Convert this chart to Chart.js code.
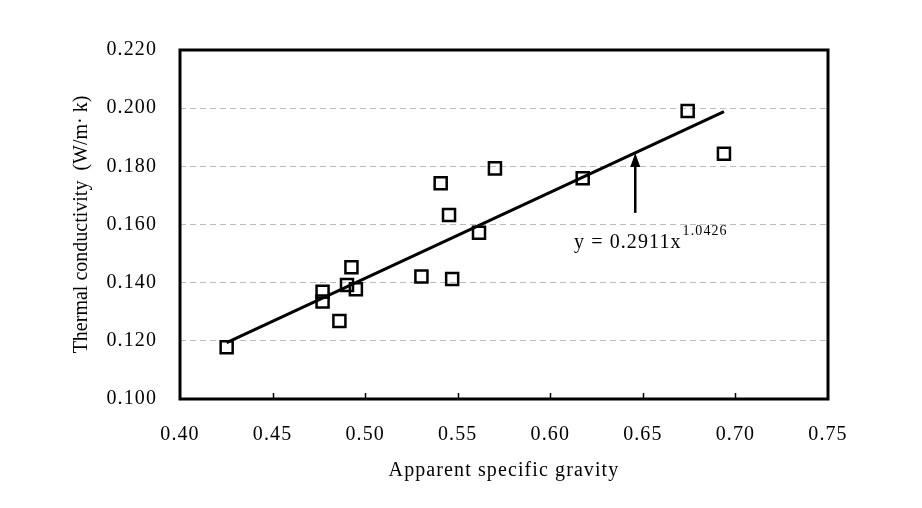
<!DOCTYPE html>
<html>
<head>
<meta charset="utf-8">
<script src="https://cdn.jsdelivr.net/npm/chart.js@4.4.0/dist/chart.umd.min.js"></script>
<style>
  body { margin: 0; background: #fff; }
  canvas { display: block; }
</style>
</head>
<body>
<canvas id="chart" width="922" height="508"></canvas>
<script>
// measured points (apparent specific gravity vs thermal conductivity)
const gravity = [0.4252, 0.4770, 0.4770, 0.4861, 0.4902, 0.4926, 0.4950, 0.5304,
  0.5408, 0.5453, 0.5470, 0.5615, 0.5701, 0.6175, 0.6742, 0.6938];
const conductivity = [0.1178, 0.1369, 0.1335, 0.1268, 0.1392, 0.1453, 0.1377, 0.1421,
  0.1742, 0.1633, 0.1413, 0.1572, 0.1793, 0.1759, 0.1990, 0.1843];

// trend line ends
const trendX = [0.4252, 0.6938];
const trendY = [0.1194, 0.1988];

const xTicks = [0.40, 0.45, 0.50, 0.55, 0.60, 0.65, 0.70, 0.75];
const yTicks = [0.100, 0.120, 0.140, 0.160, 0.180, 0.200, 0.220];

// arrow pointing at the trend line and the equation label
const arrowX = 0.6459;
const arrowFrom = 0.1640;
const arrowTo = 0.1846;
const eqX = 0.6128;
const eqY = 0.1519;
const eqText = "y = 0.2911x";
const eqPower = "1.0426";

const FONT = "'Liberation Serif', 'Times New Roman', serif";
const SPACING = "1.1px"; // the original text is a bit stretched sideways

const framePlugin = {
  id: "frame",
  beforeDraw(chart) {
    chart.ctx.letterSpacing = SPACING;
  },
  afterLayout(chart) {
    // the rotated y title is not stretched, draw it without spacing
    const ys = chart.scales.y;
    if (ys && !ys._patched) {
      const orig = ys.drawTitle.bind(ys);
      ys.drawTitle = function () {
        const ctx = chart.ctx;
        ctx.letterSpacing = "0px";
        orig();
        ctx.letterSpacing = SPACING;
      };
      ys._patched = true;
    }
  },
  afterDraw(chart) {
    const { ctx, chartArea: a, scales } = chart;
    const x = scales.x, y = scales.y;
    ctx.save();
    ctx.strokeStyle = "#000";

    // inner tick marks on the x axis
    ctx.lineWidth = 1.5;
    xTicks.slice(1, -1).forEach((v) => {
      const px = Math.round(x.getPixelForValue(v)) + 0.5;
      ctx.beginPath();
      ctx.moveTo(px, a.bottom);
      ctx.lineTo(px, a.bottom - 6);
      ctx.stroke();
    });

    // plot frame
    ctx.lineWidth = 3;
    ctx.strokeRect(a.left, a.top, a.right - a.left, a.bottom - a.top);

    // arrow
    const ax = x.getPixelForValue(arrowX);
    const ay1 = y.getPixelForValue(arrowFrom);
    const ay2 = y.getPixelForValue(arrowTo);
    ctx.lineWidth = 2.5;
    ctx.beginPath();
    ctx.moveTo(ax, ay1);
    ctx.lineTo(ax, ay2 + 12);
    ctx.stroke();
    ctx.fillStyle = "#000";
    ctx.beginPath();
    ctx.moveTo(ax, ay2);
    ctx.lineTo(ax - 5, ay2 + 14);
    ctx.lineTo(ax + 5, ay2 + 14);
    ctx.closePath();
    ctx.fill();

    // equation
    const ex = x.getPixelForValue(eqX);
    const ey = y.getPixelForValue(eqY);
    ctx.letterSpacing = SPACING;
    ctx.textBaseline = "alphabetic";
    ctx.textAlign = "left";
    ctx.font = "20px " + FONT;
    ctx.fillText(eqText, ex, ey);
    const w = ctx.measureText(eqText).width;
    ctx.font = "14px " + FONT;
    ctx.fillText(eqPower, ex + w + 1, ey - 13);
    ctx.restore();
  },
};

new Chart(document.getElementById("chart"), {
  type: "scatter",
  data: {
    datasets: [
      {
        label: "data",
        data: gravity.map((g, i) => ({ x: g, y: conductivity[i] })),
        pointStyle: "rect",
        pointRadius: 8.5,
        borderWidth: 2.5,
        borderColor: "#000",
        backgroundColor: "rgba(0,0,0,0)",
        order: 1,
      },
      {
        label: "trend",
        type: "line",
        data: trendX.map((g, i) => ({ x: g, y: trendY[i] })),
        borderColor: "#000",
        borderWidth: 3,
        pointRadius: 0,
        fill: false,
        order: 2,
      },
    ],
  },
  options: {
    responsive: false,
    animation: false,
    layout: { padding: { top: 50, right: 94, bottom: 0, left: 0 } },
    plugins: { legend: { display: false }, tooltip: { enabled: false } },
    scales: {
      x: {
        type: "linear",
        min: 0.4,
        max: 0.75,
        afterBuildTicks: (s) => { s.ticks = xTicks.map((v) => ({ value: v })); },
        afterFit: (s) => { s.height = 109; },
        ticks: {
          color: "#000",
          padding: 16,
          font: { family: FONT, size: 20 },
          callback: (v) => v.toFixed(2),
        },
        grid: { display: false },
        border: { display: false },
        title: {
          display: true,
          text: "Apparent specific gravity",
          color: "#000",
          font: { family: FONT, size: 20 },
          padding: { top: 0, bottom: 25 },
        },
      },
      y: {
        type: "linear",
        min: 0.1,
        max: 0.22,
        afterBuildTicks: (s) => { s.ticks = yTicks.map((v) => ({ value: v })); },
        afterFit: (s) => { s.width = 180; },
        ticks: {
          color: "#000",
          padding: 23,
          font: { family: FONT, size: 20 },
          callback: (v) => v.toFixed(3),
        },
        grid: {
          drawTicks: false,
          lineWidth: 1,
          color: (c) => (c.tick && (c.tick.value <= 0.1001 || c.tick.value >= 0.2199) ? "rgba(0,0,0,0)" : "#bcbcbc"),
        },
        border: { display: false, dash: [6, 4] },
        title: {
          display: true,
          text: "Thermal conductivity  (W/m· k)",
          color: "#000",
          font: { family: FONT, size: 20 },
          padding: { top: 70, bottom: 0 },
        },
      },
    },
  },
  plugins: [framePlugin],
});
</script>
</body>
</html>
